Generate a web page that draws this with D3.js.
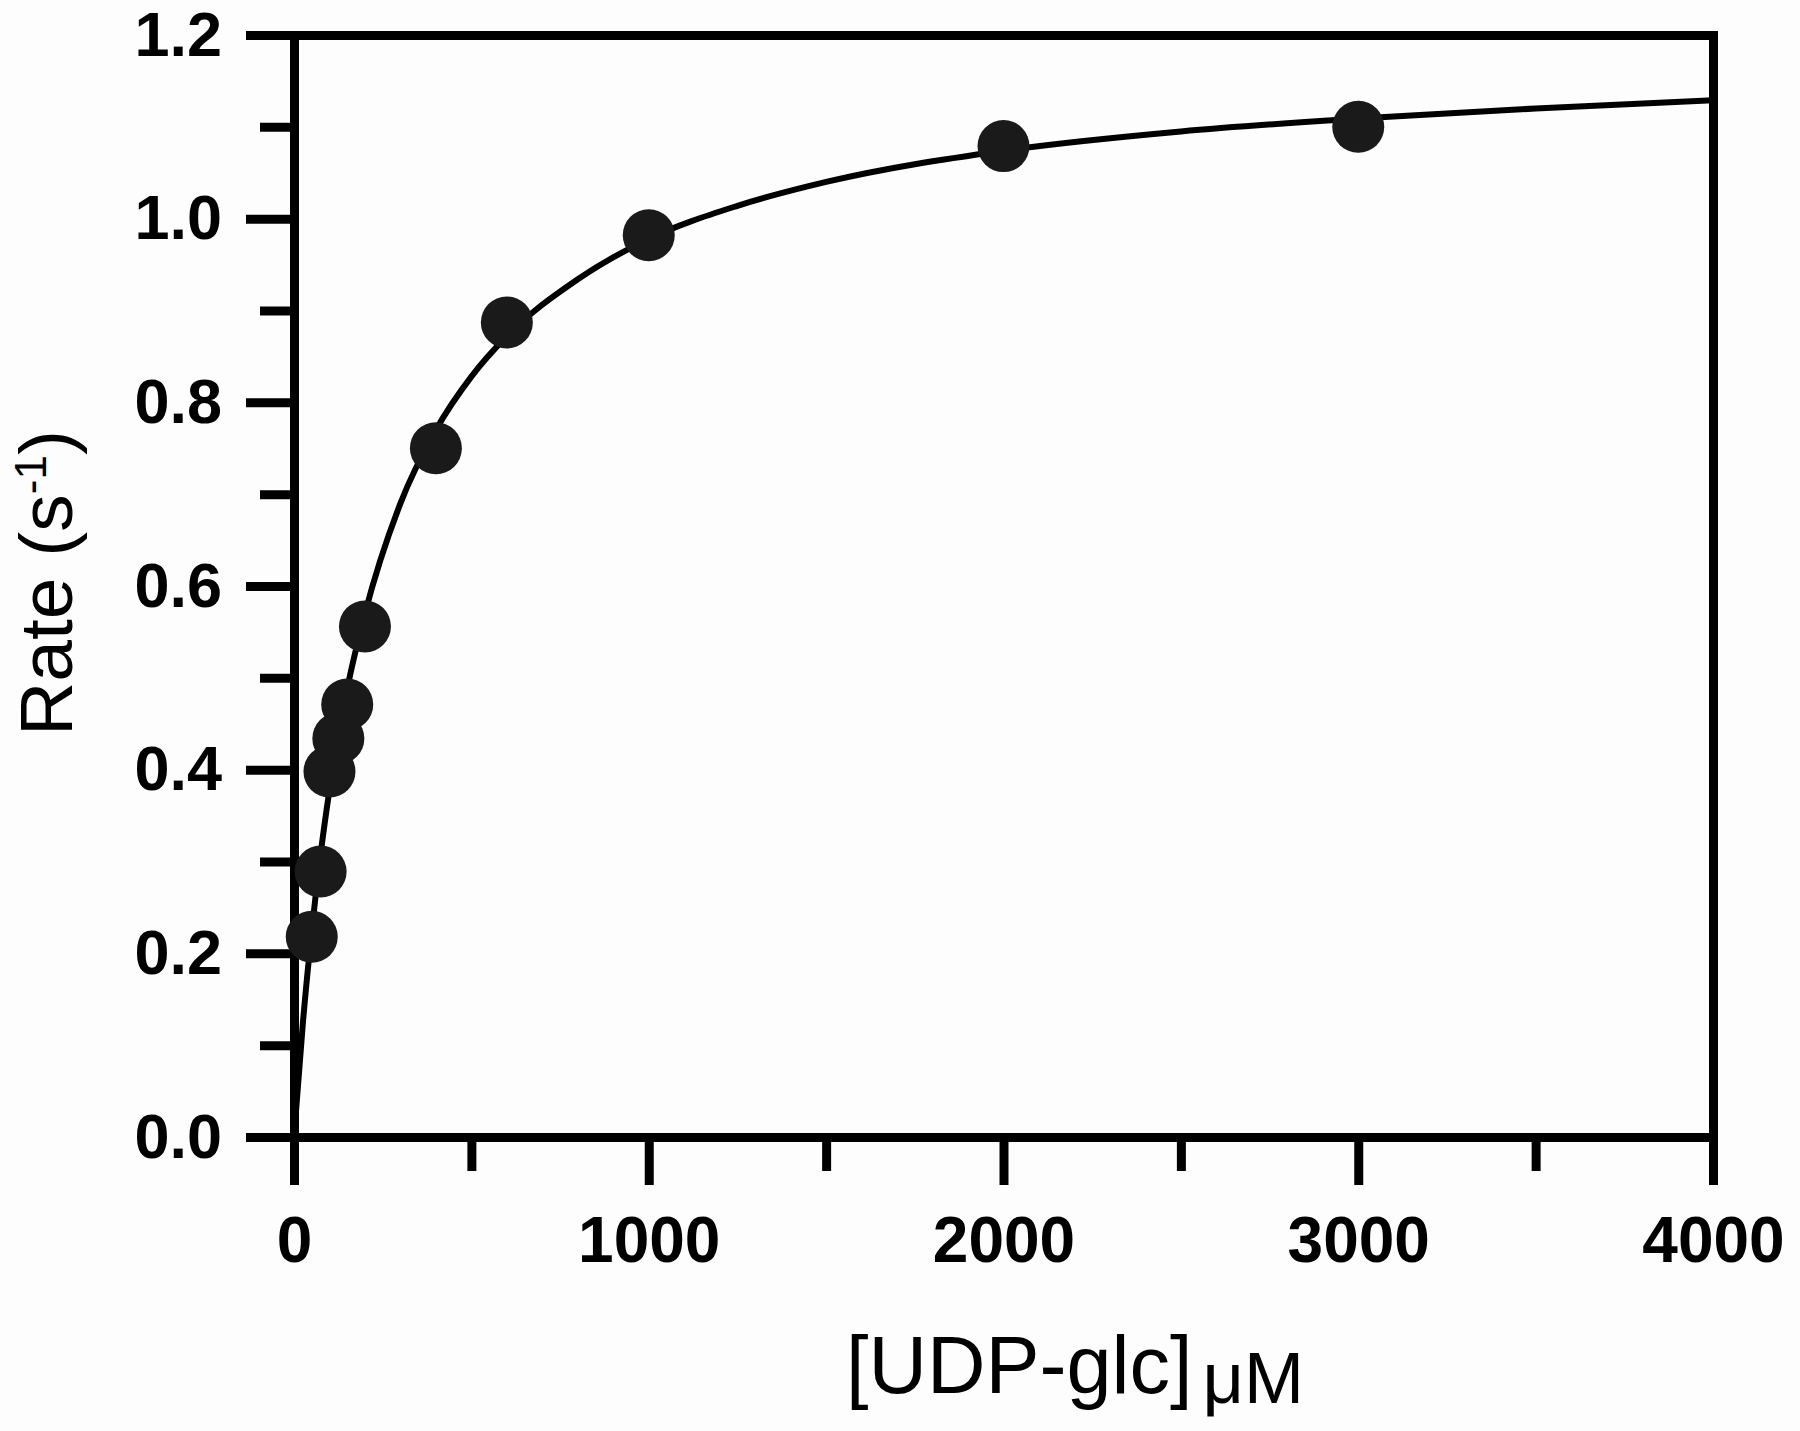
<!DOCTYPE html>
<html>
<head>
<meta charset="utf-8">
<script src="https://cdn.jsdelivr.net/npm/d3@7"></script>
<style>
  html, body { margin: 0; padding: 0; background: #fdfdfd; }
  svg { display: block; }
  text { font-family: "Liberation Sans", Arial, Helvetica, sans-serif; fill: #000; }
</style>
</head>
<body>
<svg id="chart" width="1800" height="1431"></svg>
<script>
// Measured data: substrate concentration (µM) and rate (s^-1)
const substrate = [50, 75, 100, 125, 150, 200, 400, 600, 1000, 2000, 3000];
const rate      = [0.218, 0.289, 0.398, 0.434, 0.471, 0.556, 0.750, 0.887, 0.982, 1.079, 1.100];

// Fitted curve
const curveX = [0, 25, 50, 75, 100, 150, 200, 300, 400, 500, 600, 800, 1000, 1250, 1500, 2000, 2500, 3000, 3500, 4000];
const curveY = [0, 0.124, 0.224, 0.308, 0.378, 0.488, 0.570, 0.690, 0.770, 0.828, 0.872, 0.934, 0.978, 1.014, 1.040, 1.074, 1.095, 1.109, 1.120, 1.129];

const xMajorTicks = [0, 1000, 2000, 3000, 4000];
const xMinorTicks = [500, 1500, 2500, 3500];
const yMajorTicks = [0, 0.2, 0.4, 0.6, 0.8, 1.0, 1.2];
const yMinorTicks = [0.1, 0.3, 0.5, 0.7, 0.9, 1.1];

const xTitle = "[UDP-glc]";
const xUnit = "μM";
const yTitleMain = "Rate (s";
const yTitleSup = "-1";
const yTitleEnd = ")";

const svg = d3.select("#chart");
const L = 294, R = 1713, T = 35, B = 1137;
const x = d3.scaleLinear().domain([0, 4000]).range([L, R]);
const y = d3.scaleLinear().domain([0, 1.2]).range([B, T]);

const axisW = 9;
const majorLen = 48, minorLen = 34;

function styleAxis(g) {
  g.selectAll("path.domain").attr("stroke", "#000").attr("stroke-width", axisW).attr("stroke-linecap", "square");
  g.selectAll(".tick line").attr("stroke", "#000").attr("stroke-width", axisW);
}

// Minor ticks
svg.append("g").attr("transform", `translate(0,${B})`)
  .call(d3.axisBottom(x).tickValues(xMinorTicks).tickSize(minorLen).tickFormat(""))
  .call(g => g.select(".domain").remove())
  .call(styleAxis);
svg.append("g").attr("transform", `translate(${L},0)`)
  .call(d3.axisLeft(y).tickValues(yMinorTicks).tickSize(minorLen).tickFormat(""))
  .call(g => g.select(".domain").remove())
  .call(styleAxis);

// Top and right frame
svg.append("g").attr("transform", `translate(0,${T})`)
  .call(d3.axisTop(x).tickValues([]).tickSizeOuter(0))
  .call(styleAxis);
svg.append("g").attr("transform", `translate(${R},0)`)
  .call(d3.axisRight(y).tickValues([]).tickSizeOuter(0))
  .call(styleAxis);

// Major axes
const xAxisG = svg.append("g").attr("transform", `translate(0,${B})`)
  .call(d3.axisBottom(x).tickValues(xMajorTicks).tickSize(majorLen).tickSizeOuter(0).tickPadding(32).tickFormat(d3.format("d")))
  .call(styleAxis);
xAxisG.selectAll(".tick text")
  .attr("font-size", 64).attr("font-weight", "bold").attr("fill", "#000")
  .attr("font-family", "'Liberation Sans', Arial, sans-serif");

const yAxisG = svg.append("g").attr("transform", `translate(${L},0)`)
  .call(d3.axisLeft(y).tickValues(yMajorTicks).tickSize(majorLen).tickSizeOuter(0).tickPadding(24).tickFormat(d3.format(".1f")))
  .call(styleAxis);
yAxisG.selectAll(".tick text")
  .attr("font-size", 63).attr("font-weight", "bold").attr("fill", "#000")
  .attr("font-family", "'Liberation Sans', Arial, sans-serif");

// Fit curve
const curveData = curveX.map((d, i) => [d, curveY[i]]);
svg.append("path")
  .datum(curveData)
  .attr("fill", "none")
  .attr("stroke", "#000")
  .attr("stroke-width", 6)
  .attr("d", d3.line().x(d => x(d[0])).y(d => y(d[1])).curve(d3.curveMonotoneX));

// Points
svg.append("g").selectAll("circle")
  .data(substrate.map((d, i) => [d, rate[i]]))
  .join("circle")
  .attr("cx", d => x(d[0]))
  .attr("cy", d => y(d[1]))
  .attr("r", 26)
  .attr("fill", "#1a1a1a");

// X title
const xt = svg.append("text")
  .attr("x", 1075)
  .attr("y", 1393)
  .attr("text-anchor", "middle")
  .attr("font-size", 81);
xt.append("tspan").text(xTitle);
xt.append("tspan").attr("font-size", 72).attr("dy", 10).attr("dx", 10).text(xUnit);

// Y title
const yt = svg.append("text")
  .attr("transform", `translate(72,583) rotate(-90)`)
  .attr("text-anchor", "middle")
  .attr("font-size", 75);
yt.append("tspan").text(yTitleMain);
yt.append("tspan").attr("font-size", 44).attr("dy", -26).text(yTitleSup);
yt.append("tspan").attr("dy", 26).text(yTitleEnd);
</script>
</body>
</html>
